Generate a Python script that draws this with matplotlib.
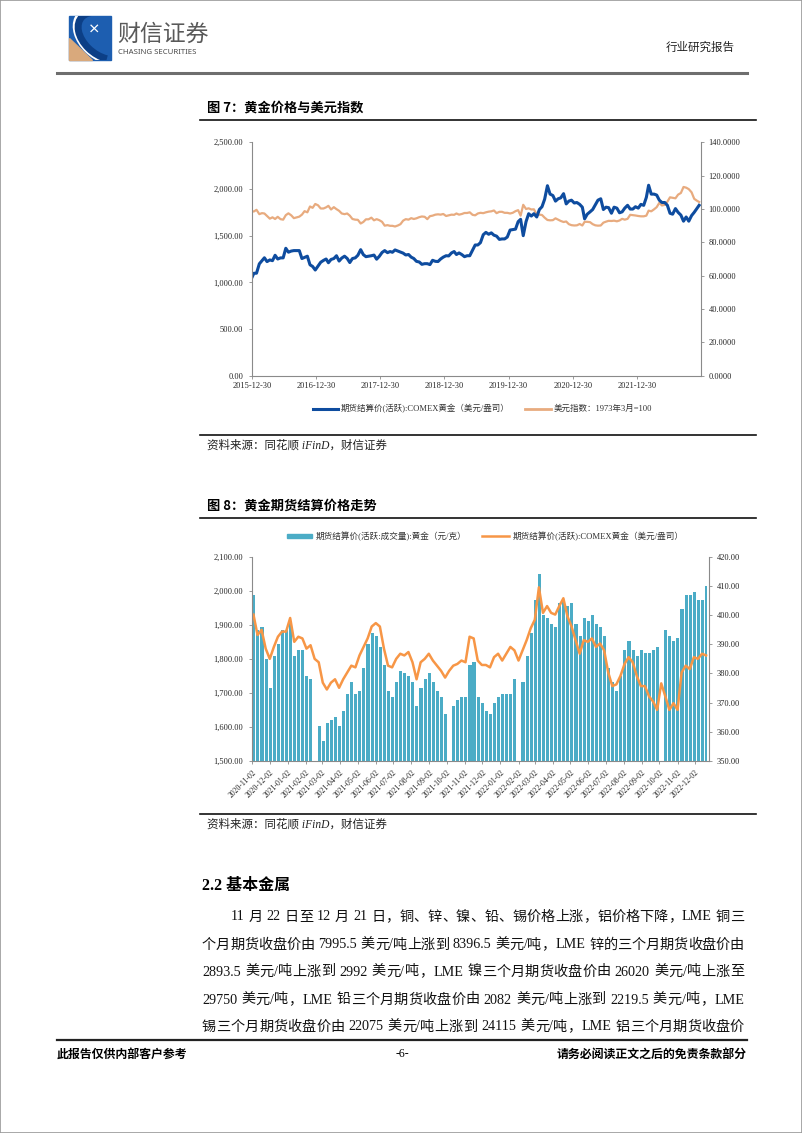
import re
import numpy as np
import pandas as pd
import matplotlib
matplotlib.use('Agg')
import matplotlib.pyplot as plt
from matplotlib.lines import Line2D
from matplotlib.patches import Rectangle, Polygon, Arc

plt.rcParams['font.family'] = ['Liberation Serif', 'Noto Sans CJK SC']
plt.rcParams['axes.unicode_minus'] = False

# ---------------- 数据：图7 黄金价格与美元指数（半月取值） ----------------
gold_2016 = [1097, 1098, 1198, 1232, 1263, 1222, 1240, 1232, 1290, 1250, 1262, 1262,
             1365, 1323, 1335, 1340, 1340, 1340, 1255, 1267, 1280, 1188, 1170, 1132]
gold_2017 = [1175, 1215, 1235, 1250, 1210, 1245, 1255, 1285, 1228, 1260, 1280, 1256,
             1212, 1255, 1262, 1290, 1350, 1297, 1275, 1280, 1285, 1292, 1248, 1278]
gold_2018 = [1320, 1340, 1318, 1330, 1322, 1347, 1335, 1325, 1313, 1293, 1298, 1270,
             1255, 1225, 1218, 1193, 1200, 1200, 1190, 1236, 1225, 1223, 1250, 1270]
gold_2019 = [1285, 1283, 1315, 1330, 1298, 1315, 1297, 1275, 1285, 1285, 1345, 1400,
             1400, 1425, 1510, 1535, 1515, 1530, 1505, 1495, 1460, 1465, 1465, 1485]
gold_2020 = [1560, 1565, 1570, 1650, 1675, 1500, 1650, 1735, 1710, 1735, 1700, 1780,
             1810, 1890, 2035, 1945, 1930, 1870, 1895, 1905, 1950, 1840, 1870, 1880]
gold_2021 = [1850, 1855, 1835, 1805, 1680, 1730, 1755, 1780, 1830, 1880, 1895, 1780,
             1805, 1800, 1740, 1805, 1795, 1745, 1755, 1795, 1825, 1785, 1785, 1810]
gold_2022 = [1795, 1835, 1825, 1910, 2040, 1945, 1945, 1935, 1880, 1855, 1855, 1825,
             1740, 1730, 1790, 1750, 1720, 1655, 1700, 1655, 1715, 1750, 1790, 1825]

usd_2016 = [98.5, 99.5, 96.9, 97.5, 97.3, 95.8, 94.2, 95.0, 94.0, 95.3, 93.9, 93.6,
            96.3, 97.4, 96.2, 94.5, 95.0, 95.4, 96.6, 98.7, 98.0, 101.5, 100.7, 103.0]
usd_2017 = [102.2, 100.3, 100.3, 101.0, 101.9, 99.7, 101.1, 99.9, 98.9, 97.3, 96.9, 97.3,
            96.0, 94.0, 93.6, 93.5, 91.3, 92.2, 93.8, 93.8, 94.8, 93.2, 93.9, 93.3]
usd_2018 = [92.3, 90.0, 90.3, 89.9, 89.9, 89.5, 90.1, 90.9, 93.0, 93.9, 93.6, 94.5,
            94.0, 94.4, 95.1, 95.5, 95.3, 93.9, 95.7, 96.0, 96.6, 96.8, 96.6, 97.0]
usd_2019 = [95.8, 96.2, 96.6, 96.5, 97.3, 96.6, 97.0, 97.6, 97.6, 98.0, 96.5, 96.2,
            97.3, 97.7, 97.5, 98.0, 98.4, 98.6, 99.1, 97.5, 98.3, 98.3, 97.7, 97.7]
usd_2020 = [97.3, 97.7, 98.7, 99.3, 96.0, 102.5, 100.0, 100.4, 99.7, 99.8, 96.6, 96.6,
            96.4, 94.8, 93.4, 93.2, 93.3, 94.4, 93.6, 92.8, 92.2, 92.5, 90.9, 90.3]
usd_2021 = [90.1, 90.2, 91.0, 90.1, 92.3, 92.3, 92.1, 90.9, 90.2, 90.0, 90.1, 91.8,
            92.4, 92.9, 92.8, 93.0, 92.6, 93.1, 94.1, 93.6, 94.1, 96.5, 96.3, 96.1]
usd_2022 = [95.8, 95.6, 95.6, 96.0, 99.0, 98.6, 99.8, 101.1, 103.7, 102.1, 102.5, 104.4,
            107.0, 106.7, 106.4, 108.6, 109.6, 113.2, 112.8, 111.9, 110.0, 106.1, 105.0, 104.2]

gold_start, usd_start = 1060, 98.6
year_ticks1 = ['2015-12-30', '2016-12-30', '2017-12-30', '2018-12-30',
               '2019-12-30', '2020-12-30', '2021-12-30']

# ---------------- 数据：图8 黄金期货结算价（周取值） ----------------
# 上期所黄金（元/克），假期周为空
shfe_gold = [407, 395, 396, 385, 375, 386, 390, 395, 395, 398,
             386, 388, 388, 379, 378, np.nan, 362, 357, 363, 364,
             365, 362, 367, 373, 377, 373, 374, 382, 390, 394,
             393, 389, 383, 374, 372, 377, 381, 380, 379, 377,
             369, 375, 378, 380, 377, 374, 372, 366, np.nan, 369,
             371, 372, 372, 383, 384, 372, 370, 367, 366, 370,
             372, 373, 373, 373, 378, np.nan, 377, 386, 394, 405,
             414, 400, 399, 397, 396, 404, 405, 403, 404, 397,
             393, 399, 398, 400, 397, 396, 393, 382, 377, 374,
             379, 388, 391, 388, 386, 388, 387, 387, 388, 389,
             np.nan, 395, 393, 391, 392, 402, 407, 407, 408, 405,
             405, 410]
# COMEX黄金（美元/盎司）
comex_gold = [1930, 1870, 1885, 1830, 1800, 1835, 1865, 1880, 1880, 1920,
              1850, 1865, 1860, 1830, 1840, 1800, 1790, 1730, 1710, 1730,
              1740, 1715, 1740, 1760, 1780, 1775, 1810, 1835, 1860, 1895,
              1905, 1895, 1830, 1780, 1775, 1800, 1815, 1810, 1820, 1790,
              1740, 1790, 1800, 1815, 1795, 1780, 1765, 1745, 1765, 1780,
              1785, 1795, 1790, 1865, 1860, 1795, 1782, 1782, 1775, 1805,
              1815, 1795, 1815, 1835, 1825, 1795, 1825, 1855, 1890, 1915,
              2010, 1935, 1955, 1935, 1930, 1955, 1978, 1925, 1895, 1855,
              1815, 1855, 1850, 1860, 1835, 1845, 1825, 1760, 1720, 1725,
              1750, 1785, 1805, 1790, 1750, 1720, 1720, 1690, 1675, 1650,
              1728, 1690, 1650, 1670, 1650, 1760, 1780, 1770, 1805, 1800,
              1815, 1810]

# ---------------- 页面 ----------------
W, H = 802, 1133
fig = plt.figure(figsize=(W / 100, H / 100), dpi=100)
CJK = ['Noto Sans CJK SC']
MIX = ['Liberation Serif', 'Noto Sans CJK SC']


def fx(x):
    return x / W


def fy(y):
    return 1 - y / H


def hline(x0, x1, y, lw, color):
    fig.add_artist(Line2D([fx(x0), fx(x1)], [fy(y), fy(y)], lw=lw, color=color))


def text(x, y, s, **kw):
    kw.setdefault('va', 'center')
    return fig.text(fx(x), fy(y), s, **kw)


# 页面边框
fig.add_artist(Rectangle((0, 0), 1, 1, transform=fig.transFigure, fill=False,
                         edgecolor='#9a9a9a', lw=1.2))

# 页眉 logo
logo = Rectangle((fx(69), fy(60)), fx(111) - fx(69), fy(16) - fy(60),
                 transform=fig.transFigure, color='#1d5eb0')
fig.add_artist(logo)
tan = Polygon([(fx(69), fy(38)), (fx(69), fy(60)), (fx(92), fy(60))],
              transform=fig.transFigure, color='#d9a97c')
fig.add_artist(tan)
swoosh = Arc((fx(104), fy(36)), 62 / W, 50 / H, angle=-20, theta1=150, theta2=290,
             transform=fig.transFigure, color='white', lw=2.2)
fig.add_artist(swoosh)
swoosh.set_clip_path(logo)
glob = Arc((fx(104), fy(36)), 54 / W, 42 / H, angle=-20, theta1=130, theta2=300,
           transform=fig.transFigure, color='#0c3f86', lw=5)
fig.add_artist(glob)
glob.set_clip_path(logo)
text(94, 30, '×', color='white', fontsize=9, family=CJK, ha='center', weight='bold')
text(117, 34, '财信证券', color='#595959', fontsize=16.5, family=CJK, ha='left')
text(118, 52, 'CHASING SECURITIES', color='#4a4a4a', fontsize=5.6,
     family=['Noto Sans'], ha='left')
text(735, 47, '行业研究报告', color='#222222', fontsize=8.3, family=CJK, ha='right')
hline(57, 747, 73, 2.2, '#6e6e6e')

# ---------------- 图 7 ----------------
text(207, 108, '图 7：黄金价格与美元指数', fontsize=9.5, family=CJK,
     weight='bold', ha='left')
hline(200, 756, 120, 1.2, '#111111')

half = pd.date_range('2016-01-01', '2022-12-01', freq='MS')
dates1 = [pd.Timestamp('2015-12-30')] + [d + pd.Timedelta(days=k) for d in half for k in (7, 22)]
dates1[-1] = pd.Timestamp('2022-12-21')
gold_all = [gold_start] + gold_2016 + gold_2017 + gold_2018 + gold_2019 + gold_2020 + gold_2021 + gold_2022
usd_all = [usd_start] + usd_2016 + usd_2017 + usd_2018 + usd_2019 + usd_2020 + usd_2021 + usd_2022

AX_GRAY = '#8a8a8a'


def style_axes(ax, sides):
    for s in ['top', 'left', 'right', 'bottom']:
        ax.spines[s].set_visible(s in sides)
        ax.spines[s].set_color(AX_GRAY)
        ax.spines[s].set_linewidth(0.8)
    ax.tick_params(colors=AX_GRAY, labelcolor='#262626', length=2.5, width=0.6,
                   direction='out', labelsize=6)


ax1 = fig.add_axes([fx(252.3), fy(375.7), (700.7 - 252.3) / W, (375.7 - 142.3) / H])
ax1.plot(dates1, gold_all, color='#0e4c9f', lw=2.2, solid_joinstyle='round')
ax1.set_ylim(0, 2500)
ax1.set_yticks(np.arange(0, 2501, 500))
ax1.set_yticklabels([f'{v:,.2f}' for v in np.arange(0, 2501, 500)])
ax1.set_xlim(pd.Timestamp('2015-12-30'), pd.Timestamp('2022-12-30'))
ax1.set_xticks([pd.Timestamp(t) for t in year_ticks1])
ax1.set_xticklabels(year_ticks1)
style_axes(ax1, ['left', 'bottom'])
ax1.tick_params(axis='y', pad=4)
ax1.tick_params(axis='x', pad=2)
ax1.patch.set_alpha(0)

ax1r = ax1.twinx()
ax1r.plot(dates1, usd_all, color='#e8ab7f', lw=1.6)
ax1r.set_ylim(0, 140)
ax1r.set_yticks(np.arange(0, 141, 20))
ax1r.set_yticklabels([f'{v:.4f}' for v in np.arange(0, 141, 20)])
style_axes(ax1r, ['right'])
ax1r.tick_params(axis='y', pad=3)
ax1.set_zorder(ax1r.get_zorder() + 1)

# 图例
hline(313, 338, 409, 2.2, '#0e4c9f')
text(341, 409, '期货结算价(活跃):COMEX黄金（美元/盎司）', fontsize=6.1, family=MIX,
     ha='left', color='#333333')
hline(525, 551, 409, 2.0, '#e8ab7f')
text(554, 409, '美元指数：1973年3月=100', fontsize=6.1, family=MIX,
     ha='left', color='#333333')

hline(200, 756, 435, 1.2, '#111111')
text(207, 446, '资料来源：同花顺 iFinD，财信证券', fontsize=8.3, family=MIX,
     style='italic', ha='left', color='#222222')

# ---------------- 图 8 ----------------
text(207, 506, '图 8：黄金期货结算价格走势', fontsize=9.5, family=CJK,
     weight='bold', ha='left')
hline(200, 756, 518, 1.2, '#111111')

weeks = pd.date_range('2020-11-02', periods=len(shfe_gold), freq='7D')
bar_w = np.full(len(weeks), 5.3)
bar_w[-1] = 2.9

ax2 = fig.add_axes([fx(252.3), fy(761), (709 - 252.3) / W, (761 - 556.7) / H])
ax2.bar(weeks, shfe_gold, width=bar_w, align='edge', color='#4bacc6', linewidth=0)
ax2.set_ylim(350, 420)
ax2.set_yticks(np.arange(350, 421, 10))
ax2.set_yticklabels([f'{v:.2f}' for v in np.arange(350, 421, 10)])
month_ticks = pd.date_range('2020-11-01', '2022-12-01', freq='MS') + pd.Timedelta(days=1)
ax2.set_xlim(pd.Timestamp('2020-11-02'), pd.Timestamp('2022-12-26'))
ax2.set_xticks(month_ticks)
ax2.set_xticklabels([d.strftime('%Y-%m-%d') for d in month_ticks], rotation=45,
                    ha='right', va='top', rotation_mode='anchor')
style_axes(ax2, ['right', 'bottom'])
ax2.tick_params(axis='x', labelsize=5.6, pad=3)

ax2l = ax2.twinx()
ax2l.plot(weeks + pd.Timedelta(days=2), comex_gold, color='#f79646', lw=1.8)
ax2l.set_ylim(1500, 2100)
ax2l.set_yticks(np.arange(1500, 2101, 100))
ax2l.set_yticklabels([f'{v:,.2f}' for v in np.arange(1500, 2101, 100)])
style_axes(ax2l, ['left'])
# twinx 会把两轴的刻度侧互换，这里再设回来
ax2.yaxis.tick_right()
ax2l.yaxis.tick_left()
ax2.tick_params(axis='y', pad=3)
ax2l.tick_params(axis='y', pad=4)

fig.add_artist(Rectangle((fx(287), fy(538)), 25 / W, 4 / H,
                         transform=fig.transFigure, color='#4bacc6'))
text(316, 536, '期货结算价(活跃:成交量):黄金（元/克）', fontsize=6.2, family=MIX,
     ha='left', color='#333333')
hline(482, 509, 536, 1.8, '#f79646')
text(513, 536, '期货结算价(活跃):COMEX黄金（美元/盎司）', fontsize=6.2, family=MIX,
     ha='left', color='#333333')

hline(200, 756, 814, 1.2, '#111111')
text(207, 825, '资料来源：同花顺 iFinD，财信证券', fontsize=8.3, family=MIX,
     style='italic', ha='left', color='#222222')

# ---------------- 正文 ----------------
text(202, 886, '2.2 基本金属', fontsize=11.5, family=MIX, weight='bold', ha='left')

para = [
    '11 月 22 日至 12 月 21 日，铜、锌、镍、铅、锡价格上涨，铝价格下降，LME 铜三',
    '个月期货收盘价由 7995.5 美元/吨上涨到 8396.5 美元/吨，LME 锌的三个月期货收盘价由',
    '2893.5 美元/吨上涨到 2992 美元/吨，LME 镍三个月期货收盘价由 26020 美元/吨上涨至',
    '29750 美元/吨，LME 铅三个月期货收盘价由 2082 美元/吨上涨到 2219.5 美元/吨，LME',
    '锡三个月期货收盘价由 22075 美元/吨上涨到 24115 美元/吨，LME 铝三个月期货收盘价',
]
renderer = fig.canvas.get_renderer()


def justify(s, x0, x1, y, size):
    toks = re.findall(r'[A-Za-z0-9.]+| |.', s)
    em = size * 100 / 72
    items = []
    for t in toks:
        if t == ' ':
            items.append((None, em * 0.28))
        else:
            tx = text(0, y, t, fontsize=size, family=MIX, ha='left', color='#111111')
            items.append((tx, tx.get_window_extent(renderer).width))
    gap = (x1 - x0 - sum(w for _, w in items)) / (len(items) - 1)
    x = x0
    for tx, w in items:
        if tx is not None:
            tx.set_x(fx(x))
        x += w + gap


line_y = [917, 945, 972, 1000, 1027]
for i, s in enumerate(para):
    justify(s, 231 if i == 0 else 202, 744, line_y[i], 10.2)

# 页脚
hline(57, 747, 1040, 1.6, '#222222')
text(57, 1054, '此报告仅供内部客户参考', fontsize=8.6, family=CJK, weight='bold', ha='left')
text(402, 1054, '-6-', fontsize=8.5, family=MIX, ha='center')
text(747, 1054, '请务必阅读正文之后的免责条款部分', fontsize=8.6, family=CJK,
     weight='bold', ha='right')

fig.savefig('out.png', dpi=100)
